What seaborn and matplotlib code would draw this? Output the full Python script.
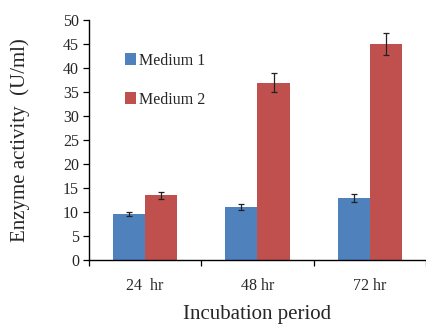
import pandas as pd
import seaborn as sns
import matplotlib.pyplot as plt
from matplotlib.ticker import FixedLocator

periods = ["24  hr", "48 hr", "72 hr"]
medium1 = [9.6, 11.0, 12.9]
medium2 = [13.5, 37.0, 45.0]
err1 = [0.5, 0.6, 0.8]
err2 = [0.7, 2.0, 2.3]

df = pd.DataFrame({
    "period": periods * 2,
    "value": medium1 + medium2,
    "medium": ["Medium 1"] * 3 + ["Medium 2"] * 3,
})

sns.set_style("white")
plt.rcParams["font.family"] = ["Liberation Serif", "DejaVu Serif"]

fig = plt.figure(figsize=(4.27, 3.25), dpi=100)
ax = fig.add_axes([0.208, 0.2, 0.79, 0.738])

sns.barplot(data=df, x="period", y="value", hue="medium",
            palette=["#4F81BD", "#C0504D"], width=0.57, gap=0,
            errorbar=None, saturation=1, linewidth=0, ax=ax)

# error bars on top of each bar
for cont, errs in zip(ax.containers, [err1, err2]):
    xs = [b.get_x() + b.get_width() / 2 for b in cont]
    ys = [b.get_height() for b in cont]
    ax.errorbar(xs, ys, yerr=errs, fmt="none", ecolor="#222222",
                elinewidth=0.9, capsize=2.5, capthick=0.9)

ax.set_xlim(-0.5, 2.5)
ax.set_ylim(0, 50)
ax.set_yticks(range(0, 51, 5))
ax.xaxis.set_minor_locator(FixedLocator([-0.5, 0.5, 1.5, 2.5]))
ax.tick_params(axis="x", which="major", length=0, pad=13, labelsize=11.5)
ax.tick_params(axis="x", which="minor", length=4, width=0.9, direction="out",
               bottom=True, color="black")
ax.tick_params(axis="y", length=4, width=0.9, direction="out", left=True,
               labelsize=11.5, pad=3, color="black")

for s in ["top", "right"]:
    ax.spines[s].set_visible(False)
for s in ["left", "bottom"]:
    ax.spines[s].set_color("black")
    ax.spines[s].set_linewidth(1.0)

ax.set_xlabel("Incubation period", fontsize=15, labelpad=8)
ax.set_ylabel("Enzyme activity  (U/ml)", fontsize=15)
ax.yaxis.set_label_coords(-0.175, 0.5)

ax.legend(title=None, frameon=False, fontsize=11.5, loc="upper left",
          bbox_to_anchor=(0.065, 0.925), labelspacing=1.45, handlelength=0.7,
          handleheight=0.7, handletextpad=0.2)

fig.savefig("out.png", dpi=100)
